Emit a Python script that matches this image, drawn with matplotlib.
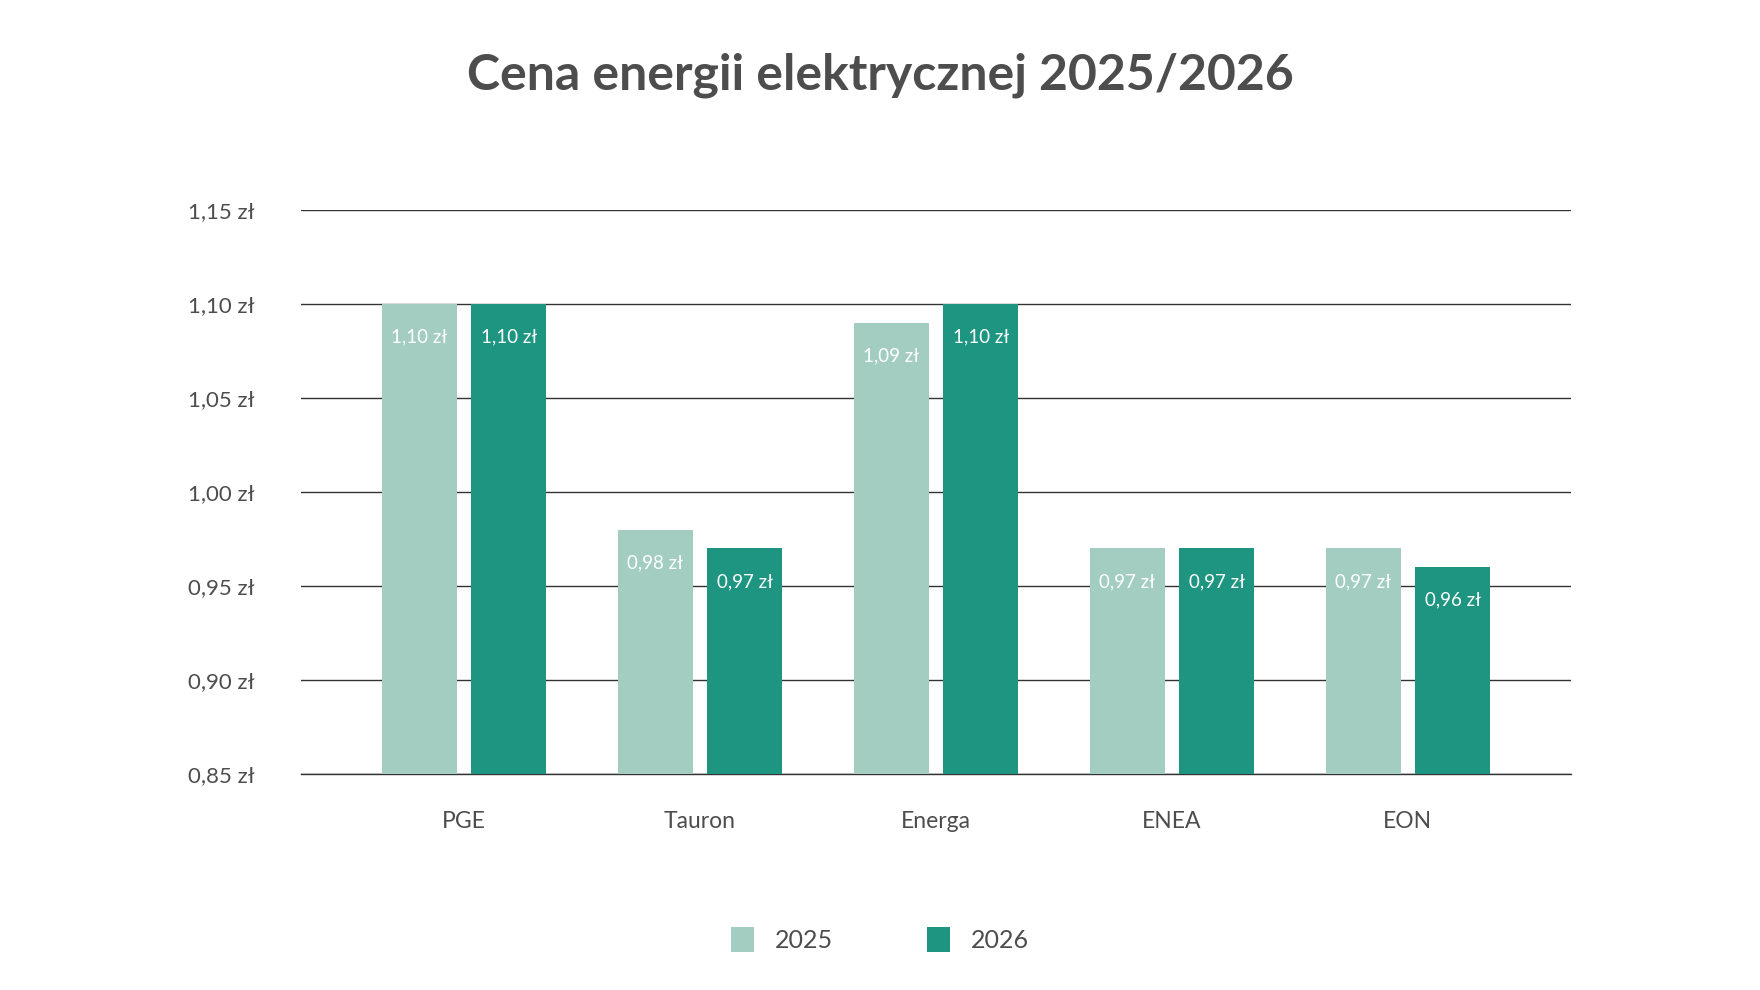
import matplotlib.pyplot as plt
import numpy as np
from matplotlib.patches import Rectangle

# Dane
companies = ["PGE", "Tauron", "Energa", "ENEA", "EON"]
price_2025 = [1.10, 0.98, 1.09, 0.97, 0.97]
price_2026 = [1.10, 0.97, 1.10, 0.97, 0.96]
series_names = ["2025", "2026"]
y_ticks = [0.85, 0.90, 0.95, 1.00, 1.05, 1.10, 1.15]

light = "#a3cdc1"
dark = "#1e9580"
text_col = "#4d4d4d"


def fmt(v):
    return f"{v:.2f}".replace(".", ",") + " zł"


plt.rcParams["font.family"] = ["Lato", "DejaVu Sans"]

fig = plt.figure(figsize=(17.6, 9.9), dpi=100)
fig.patch.set_facecolor("white")
ax = fig.add_axes([0.171, 0.2182, 0.7216, 0.5697])

x = np.arange(len(companies))
w = 0.318
off = 0.19

bars1 = ax.bar(x - off, price_2025, width=w, color=light, zorder=3)
bars2 = ax.bar(x + off, price_2026, width=w, color=dark, zorder=3)

for bars in (bars1, bars2):
    for b in bars:
        h = b.get_height()
        ax.annotate(fmt(h), (b.get_x() + b.get_width() / 2, h),
                    xytext=(0, -33), textcoords="offset pixels",
                    ha="center", va="center", color="white", fontsize=13.5, zorder=4)

ax.set_ylim(0.85, 1.15)
ax.set_xlim(-0.691, len(companies) - 1 + 0.691)
ax.set_yticks(y_ticks)
ax.set_yticklabels([fmt(v) for v in y_ticks])
ax.set_xticks(x)
ax.set_xticklabels(companies)
ax.tick_params(axis="both", length=0, labelsize=16, colors=text_col)
ax.tick_params(axis="x", pad=27, labelsize=16.5)
for lbl in ax.get_yticklabels():
    lbl.set_horizontalalignment("left")
    lbl.set_x(-0.0855)

ax.grid(axis="y", color="#333333", linewidth=1.0, zorder=1)
ax.axhline(0.85, color="#333333", linewidth=1.0, zorder=2, clip_on=False)
for s in ax.spines.values():
    s.set_visible(False)

fig.text(0.5, 0.924, "Cena energii elektrycznej 2025/2026", ha="center", va="center",
         fontsize=36, fontweight="bold", color=text_col)

# Legenda
for col, name, sx in [(light, series_names[0], 731), (dark, series_names[1], 927)]:
    fig.patches.append(Rectangle((sx / 1760, 1 - 952 / 990), 23 / 1760, 25 / 990,
                                 transform=fig.transFigure, facecolor=col, edgecolor="none"))
    fig.text((sx + 44) / 1760, 1 - 940 / 990, name, ha="left", va="center",
             fontsize=18, color=text_col)

fig.savefig("out.png", dpi=100, facecolor="white")
